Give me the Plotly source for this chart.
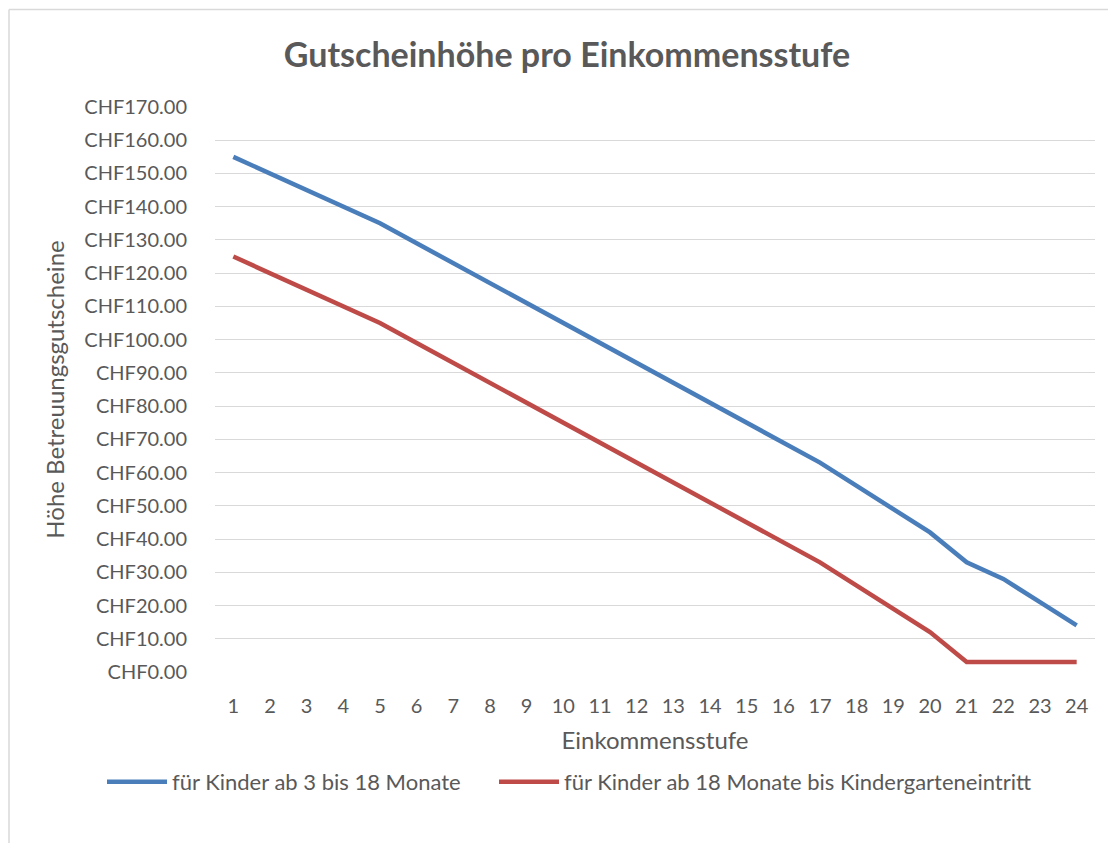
import plotly.graph_objects as go

stufen = list(range(1, 25))
serie_a_name = "für Kinder ab 3 bis 18 Monate"
serie_a = [155, 150, 145, 140, 135, 129, 123, 117, 111, 105, 99, 93, 87, 81, 75, 69, 63, 56, 49, 42, 33, 28, 21, 14]
serie_b_name = "für Kinder ab 18 Monate bis Kindergarteneintritt"
serie_b = [125, 120, 115, 110, 105, 99, 93, 87, 81, 75, 69, 63, 57, 51, 45, 39, 33, 26, 19, 12, 3, 3, 3, 3]

FONT = "Lato"
GREY = "#595959"

fig = go.Figure()
fig.add_trace(go.Scatter(x=stufen, y=serie_a, mode="lines", name=serie_a_name, legend="legend",
                         line=dict(color="#4A7EBB", width=4.5)))
fig.add_trace(go.Scatter(x=stufen, y=serie_b, mode="lines", name=serie_b_name, legend="legend2",
                         line=dict(color="#BE4B48", width=4.5)))

# page body has an 8px margin; coordinates below are window pixels
OFF = 8
WIN_W, WIN_H = 1116, 843
W, H = WIN_W - OFF, WIN_H - OFF
L, R, T, B = 215, 1095, 107, 672
pw, ph = R - L, B - T

def px(x):
    return (x - L) / pw

def py(y):
    return (B - y) / ph

legend_style = dict(orientation="h", xanchor="left", yanchor="middle", y=py(782),
                    font=dict(size=22, color=GREY), itemwidth=60, bgcolor="rgba(0,0,0,0)")

fig.update_layout(
    width=W, height=H,
    margin=dict(l=L - OFF, r=WIN_W - R, t=T - OFF, b=WIN_H - B, pad=0),
    paper_bgcolor="white", plot_bgcolor="white",
    font=dict(family=FONT, color=GREY, size=20),
    title=dict(text="<b>Gutscheinhöhe pro Einkommensstufe</b>", x=(567 - OFF) / W, xanchor="center",
               y=1 - (55 - OFF) / H, yanchor="middle", font=dict(size=34, color=GREY, family=FONT)),
    xaxis=dict(range=[0.5, 24.5], tickmode="array", tickvals=stufen, ticktext=[str(s) for s in stufen],
               showgrid=False, zeroline=False, showline=False, ticks="",
               ticklabelstandoff=20, tickfont=dict(size=20, color=GREY),
               title=dict(text="Einkommensstufe", font=dict(size=24, color=GREY), standoff=16)),
    yaxis=dict(range=[0, 170], dtick=10, tickprefix="CHF", tickformat=".2f",
               showgrid=True, gridcolor="#D9D9D9", gridwidth=1.3, zeroline=False, showline=False,
               ticks="", ticklabelstandoff=27, tickfont=dict(size=20, color=GREY),
               title=dict(text="Höhe Betreuungsgutscheine", font=dict(size=24, color=GREY), standoff=12)),
    legend=dict(x=px(102), **legend_style),
    legend2=dict(x=px(494), **legend_style),
    showlegend=True,
)

# chart border (top and left edges)
fig.add_shape(type="line", xref="paper", yref="paper", x0=px(9), x1=px(1116), y0=py(9.5), y1=py(9.5),
              line=dict(color="#D9D9D9", width=1.5))
fig.add_shape(type="line", xref="paper", yref="paper", x0=px(9), x1=px(9), y0=py(9.5), y1=py(843),
              line=dict(color="#D9D9D9", width=1.5))

fig.write_html("out.html")
